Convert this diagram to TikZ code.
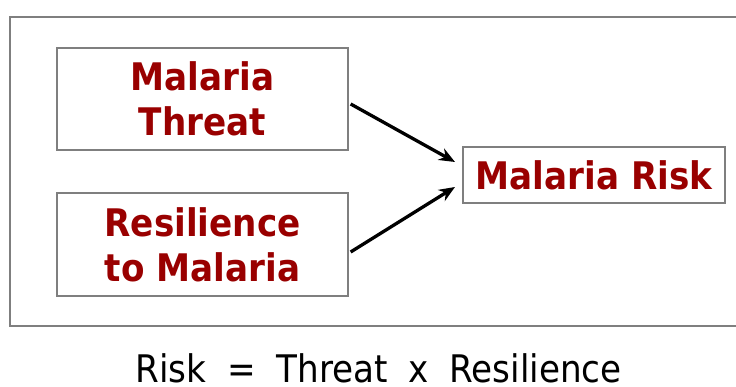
\documentclass[tikz,border=0pt]{standalone}
\usepackage{fontspec}
\setmainfont{DejaVu Sans Condensed}
\usetikzlibrary{arrows.meta}
\definecolor{boxred}{HTML}{990000}
\definecolor{edgegray}{HTML}{7F7F7F}
\tikzset{
  factor/.style={draw=edgegray, line width=1.3pt, align=center, inner sep=0pt,
    font=\fontsize{38}{45}\selectfont\bfseries, text=boxred},
  link/.style={line width=3.3pt, -{Stealth[length=16pt,width=13pt]}}
}
\begin{document}
\begin{tikzpicture}[x=1pt,y=1pt]
\useasboundingbox (0,0) rectangle (736,387);
\draw[edgegray, line width=1.3pt] (737,370) -- (10,370) -- (10,61) -- (737,61);
\node[factor, minimum width=291pt, minimum height=102pt] (threat) at (202.5,288) {Malaria\\Threat};
\node[factor, minimum width=291pt, minimum height=103pt] (resil) at (202.5,142.5) {Resilience\\to Malaria};
\node[factor, minimum width=262pt, minimum height=56pt] (risk) at (594,212) {Malaria Risk};
\coordinate (tip1) at (455,225);
\coordinate (tip2) at (455,200);
\draw[link] ([shift={(2pt,-5pt)}]threat.east) -- (tip1);
\draw[link] ([shift={(2pt,-7.5pt)}]resil.east) -- (tip2);
\node[font=\fontsize{38}{45}\selectfont, anchor=base, inner sep=0pt, text depth=0pt] (formula) at (378.5,4)
  {Risk\hspace{0.55em}=\hspace{0.55em}Threat\hspace{0.55em}x\hspace{0.55em}Resilience};
\end{tikzpicture}
\end{document}
